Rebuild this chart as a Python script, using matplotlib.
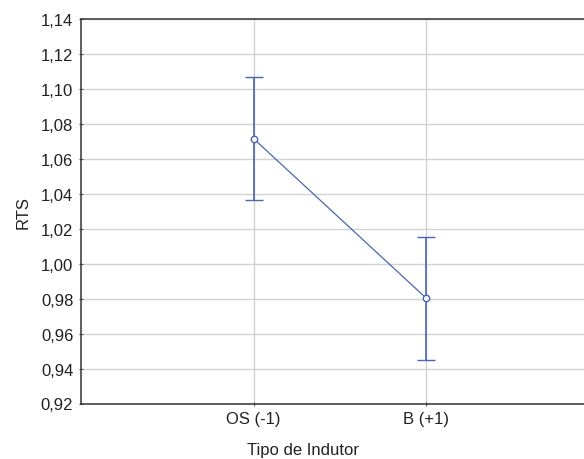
import matplotlib.pyplot as plt
from matplotlib.ticker import FuncFormatter, MultipleLocator

plt.rcParams['font.family'] = ['Liberation Sans', 'DejaVu Sans']

categories = ['OS (-1)', 'B (+1)']
means = [1.0715, 0.9802]
errors = [0.0352, 0.0352]
yticks_step = 0.02

blue = '#4a64b4'

fig = plt.figure(figsize=(5.84, 4.6), dpi=100)
# axes run past the right edge of the figure, as in the exported graph
ax = fig.add_axes([81 / 584, 1 - 404.5 / 460, 518 / 584, 384.5 / 460])

x = list(range(1, len(categories) + 1))
ax.errorbar(x, means, yerr=errors, color=blue, lw=0.9, elinewidth=1.2,
            capsize=6.2, capthick=1.2, marker='o', ms=4.6,
            mfc='white', mec=blue, mew=1.0, zorder=3)

ax.set_xlim(0, len(categories) + 1)
ax.set_ylim(0.92, 1.14)
ax.set_xticks(x)
ax.set_xticklabels(categories)
ax.yaxis.set_major_locator(MultipleLocator(yticks_step))
ax.yaxis.set_major_formatter(FuncFormatter(lambda v, p: f'{v:.2f}'.replace('.', ',')))

ax.grid(True, color='#d2d2d2', lw=1.0)
ax.set_axisbelow(True)
for side in ['left', 'bottom', 'top']:
    ax.spines[side].set_color('#333333')
    ax.spines[side].set_linewidth(1.1)
ax.spines['right'].set_visible(False)

ax.tick_params(axis='both', direction='inout', length=3, width=0.8,
               color='#555555', labelsize=12, labelcolor='#222222', pad=4)

ax.set_ylabel('RTS', fontsize=12, color='#222222')
ax.yaxis.set_label_coords(-0.097, 0.5)
ax.set_xlabel('Tipo de Indutor', fontsize=12, color='#222222')
ax.xaxis.set_label_coords(0.4286, -0.1)

fig.savefig('out.png', dpi=100)
